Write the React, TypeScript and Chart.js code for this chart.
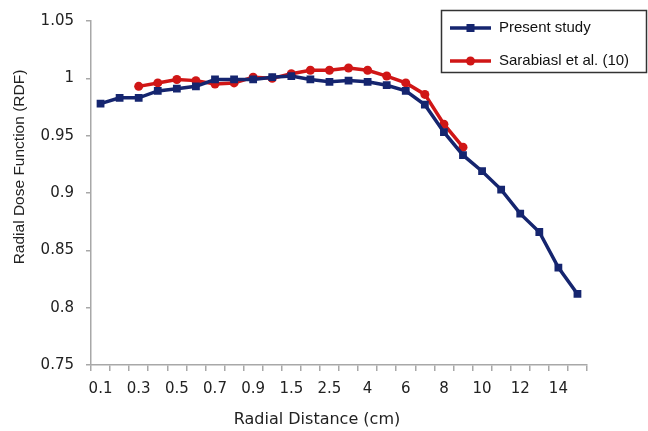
import React, { useEffect, useRef } from 'react';
import { Chart, registerables } from 'chart.js';

Chart.register(...registerables);

const categories = ['0.1', '0.2', '0.3', '0.4', '0.5', '0.6', '0.7', '0.8', '0.9', '1', '1.5', '2', '2.5', '3', '4', '5', '6', '7', '8', '9', '10', '11', '12', '13', '14', '15'];

const presentStudy = [0.978, 0.983, 0.983, 0.989, 0.991, 0.993, 0.999, 0.999, 0.999, 1.001, 1.002, 0.999, 0.997, 0.998, 0.997, 0.994, 0.989, 0.977, 0.953, 0.933, 0.919, 0.903, 0.882, 0.866, 0.835, 0.812];

const sarabiasl = [null, null, 0.993, 0.996, 0.999, 0.998, 0.995, 0.996, 1.001, 1.0, 1.004, 1.007, 1.007, 1.009, 1.007, 1.002, 0.996, 0.986, 0.96, 0.94, null, null, null, null, null, null];

const seriesNames = ['Present study', 'Sarabiasl et al. (10)'];
const yTickValues = [0.75, 0.8, 0.85, 0.9, 0.95, 1.0, 1.05];
const xTitle = 'Radial Distance (cm)';
const yTitle = 'Radial Dose Function (RDF)';

const BLUE = '#15256f';
const RED = '#d01616';
const AXIS = '#a8a8a8';
const TEXT = '#222222';

const titlesPlugin = {
  id: 'axisTitlesCustom',
  afterDraw(chart: any) {
    const ctx = chart.ctx;
    ctx.save();
    ctx.fillStyle = TEXT;
    ctx.textAlign = 'center';
    ctx.textBaseline = 'middle';
    ctx.font = '16px "DejaVu Sans"';
    ctx.fillText(xTitle, 317, 420);
    ctx.translate(20, 167);
    ctx.rotate(-Math.PI / 2);
    ctx.font = '15.5px "Liberation Sans"';
    ctx.fillText(yTitle, 0, 0);
    ctx.restore();
  },
};

const legendPlugin = {
  id: 'boxLegendCustom',
  afterDraw(chart: any) {
    const ctx = chart.ctx;
    ctx.save();
    ctx.fillStyle = '#ffffff';
    ctx.fillRect(441.5, 10.5, 205, 62);
    ctx.strokeStyle = '#333333';
    ctx.lineWidth = 1.5;
    ctx.strokeRect(441.5, 10.5, 205, 62);
    const rows = [28, 61];
    chart.data.datasets.forEach((ds: any, i: number) => {
      const y = rows[i];
      ctx.strokeStyle = ds.borderColor;
      ctx.lineWidth = 3.5;
      ctx.beginPath();
      ctx.moveTo(450, y);
      ctx.lineTo(491, y);
      ctx.stroke();
      ctx.fillStyle = ds.pointBackgroundColor;
      if (ds.pointStyle === 'rect') {
        ctx.fillRect(470.5 - 4, y - 4, 8, 8);
      } else {
        ctx.beginPath();
        ctx.arc(470.5, y, 4.5, 0, Math.PI * 2);
        ctx.fill();
      }
      ctx.fillStyle = '#111111';
      ctx.font = '15px "Liberation Sans"';
      ctx.textAlign = 'left';
      ctx.textBaseline = 'middle';
      ctx.fillText(ds.label, 499, y);
    });
    ctx.restore();
  },
};

export default function App() {
  const ref = useRef<HTMLCanvasElement>(null);

  useEffect(() => {
    document.body.style.margin = '0';
    const canvas = ref.current;
    if (!canvas) return;
    const chart = new Chart(canvas, {
      type: 'line',
      data: {
        labels: categories,
        datasets: [
          {
            label: seriesNames[0],
            data: presentStudy,
            borderColor: BLUE,
            backgroundColor: BLUE,
            pointBackgroundColor: BLUE,
            pointBorderColor: BLUE,
            pointStyle: 'rect',
            pointRadius: 5.5,
            pointBorderWidth: 0,
            borderWidth: 3.5,
            tension: 0,
            fill: false,
          },
          {
            label: seriesNames[1],
            data: sarabiasl,
            borderColor: RED,
            backgroundColor: RED,
            pointBackgroundColor: RED,
            pointBorderColor: RED,
            pointStyle: 'circle',
            pointRadius: 4.5,
            pointBorderWidth: 0,
            borderWidth: 3.5,
            tension: 0,
            fill: false,
            spanGaps: false,
          },
        ],
      },
      options: {
        animation: false,
        responsive: true,
        maintainAspectRatio: false,
        layout: { padding: { top: 17, right: 61, left: 0, bottom: 0 } },
        plugins: {
          legend: { display: false },
          tooltip: { enabled: false },
          title: { display: false },
        },
        scales: {
          x: {
            type: 'category',
            offset: true,
            grid: {
              offset: true,
              drawOnChartArea: false,
              drawTicks: true,
              tickLength: 6,
              color: AXIS,
              lineWidth: 1.5,
            },
            border: { display: true, color: AXIS, width: 1.5 },
            ticks: {
              autoSkip: false,
              maxRotation: 0,
              minRotation: 0,
              padding: 9,
              color: TEXT,
              font: { family: 'DejaVu Sans', size: 15 },
              callback: (_v: any, i: number) => (i % 2 === 0 ? categories[i] : ''),
            },
            afterFit: (s: any) => {
              s.height = 66;
            },
          },
          y: {
            min: 0.75,
            max: 1.05,
            afterBuildTicks: (s: any) => {
              s.ticks = yTickValues.map((v) => ({ value: v }));
            },
            grid: {
              drawOnChartArea: false,
              drawTicks: true,
              tickLength: 5,
              color: AXIS,
              lineWidth: 1.5,
            },
            border: { display: true, color: AXIS, width: 1.5 },
            ticks: {
              padding: 12,
              color: TEXT,
              font: { family: 'DejaVu Sans', size: 15 },
              callback: (v: any) => String(Math.round(Number(v) * 100) / 100),
            },
            afterFit: (s: any) => {
              s.width = 91;
            },
          },
        },
      },
      plugins: [titlesPlugin, legendPlugin],
    });
    return () => chart.destroy();
  }, []);

  return (
    <div style={{ position: 'relative', width: 648, height: 431 }}>
      <canvas ref={ref} />
    </div>
  );
}
